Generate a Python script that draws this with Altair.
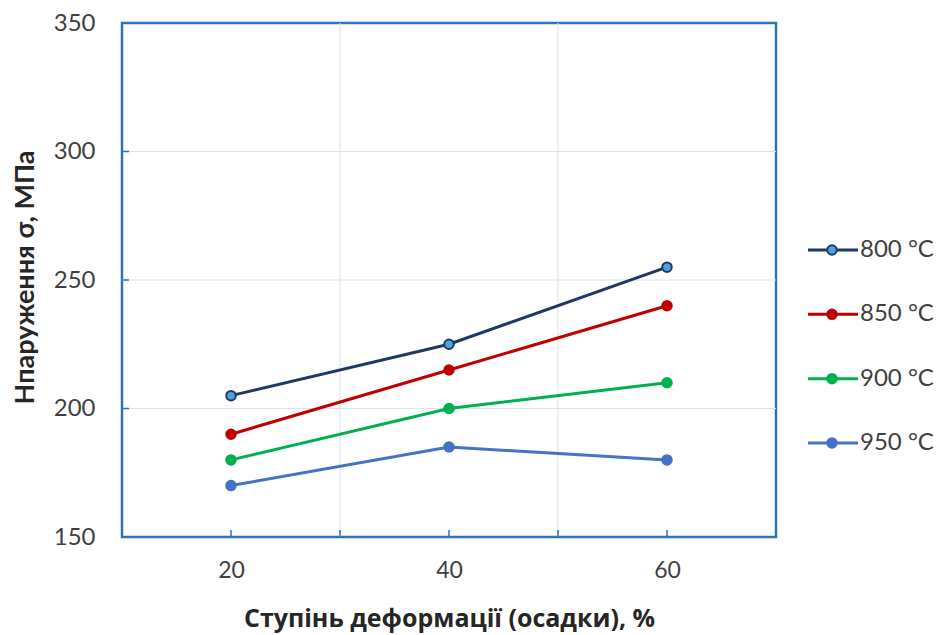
import altair as alt
import pandas as pd

# Deformation degree (upsetting), %
strain = [20, 40, 60]

# Flow stress, MPa, per deformation temperature
series_names = ["800 °C", "850 °C", "900 °C", "950 °C"]
stress_800 = [205, 225, 255]
stress_850 = [190, 215, 240]
stress_900 = [180, 200, 210]
stress_950 = [170, 185, 180]

line_colors = ["#1f3864", "#c00000", "#00b050", "#4472c4"]
marker_fills = ["#4aa3df", "#c00000", "#00b050", "#4472c4"]

y_ticks = [150, 200, 250, 300, 350]
x_labels = [20, 40, 60]
x_minor = [20, 30, 40, 50, 60]
x_grid = [30, 50]
y_grid = [200, 250, 300]

rows = []
for name, vals in zip(series_names, [stress_800, stress_850, stress_900, stress_950]):
    for x, v in zip(strain, vals):
        rows.append({"series": name, "strain": x, "stress": v})
df = pd.DataFrame(rows)
legend_df = pd.DataFrame({"series": series_names})

W, H = 654, 514
FRAME = "#2a74b8"
FONT = "Lato"

xs = alt.Scale(domain=[10, 70], nice=False, zero=False)
ys = alt.Scale(domain=[150, 350], nice=False, zero=False)
stroke_scale = alt.Scale(domain=series_names, range=line_colors)
fill_scale = alt.Scale(domain=series_names, range=marker_fills)

x_axis = alt.Axis(
    values=x_labels, grid=False, domain=False, ticks=False,
    labelFontSize=23, labelColor="#404040", labelFont=FONT, labelPadding=22,
    title="Ступінь деформації (осадки), %", titleFont="Open Sans", titleFontSize=25,
    titleFontWeight="bold", titleColor="#262626", titleY=89,
    titleBaseline="alphabetic",
)
y_axis = alt.Axis(
    values=y_ticks, grid=False, domain=False, ticks=False,
    labelFontSize=24, labelColor="#404040", labelFont=FONT, labelPadding=27,
    title="Нпаруження σ, МПа", titleFont=FONT, titleFontSize=27,
    titleFontWeight="bold", titleColor="#262626", titleX=-89, titleY=254,
    titleAngle=-90, titleAlign="center", titleBaseline="alphabetic",
)

vgrid = alt.Chart(pd.DataFrame({"g": x_grid})).mark_rule(
    color="#d9e2ec", strokeWidth=1
).encode(x=alt.X("g:Q", scale=xs, axis=x_axis))

hgrid = alt.Chart(pd.DataFrame({"g": y_grid})).mark_rule(
    color="#d9e2ec", strokeWidth=1
).encode(y=alt.Y("g:Q", scale=ys, axis=None))

xtick_marks = alt.Chart(pd.DataFrame({"t": x_minor})).mark_rule(
    color=FRAME, strokeWidth=1.5
).encode(x=alt.X("t:Q", scale=xs, axis=x_axis), y=alt.value(H), y2=alt.value(H - 7))

ytick_marks = alt.Chart(pd.DataFrame({"t": y_grid})).mark_rule(
    color=FRAME, strokeWidth=1.5
).encode(y=alt.Y("t:Q", scale=ys, axis=None), x=alt.value(0), x2=alt.value(7))

lines = alt.Chart(df).mark_line(strokeWidth=3).encode(
    x=alt.X("strain:Q", scale=xs, axis=x_axis),
    y=alt.Y("stress:Q", scale=ys, axis=y_axis),
    color=alt.Color("series:N", scale=stroke_scale, legend=None),
    detail="series:N",
)

points = alt.Chart(df).mark_point(
    size=90, strokeWidth=2, opacity=1, fillOpacity=1, filled=True
).encode(
    x=alt.X("strain:Q", scale=xs, axis=x_axis),
    y=alt.Y("stress:Q", scale=ys, axis=None),
    fill=alt.Fill("series:N", scale=fill_scale, legend=None),
    stroke=alt.Stroke("series:N", scale=stroke_scale, legend=None),
)

# Hand-built legend to the right of the plot area
leg_y = alt.Y(
    "series:N",
    scale=alt.Scale(type="point", domain=series_names, range=[227, 420], padding=0),
    axis=None,
)

leg_lines = alt.Chart(legend_df).mark_rule(strokeWidth=3).encode(
    x=alt.value(W + 32), x2=alt.value(W + 82), y=leg_y,
    color=alt.Color("series:N", scale=stroke_scale, legend=None),
)
leg_points = alt.Chart(legend_df).mark_point(
    size=90, strokeWidth=2, opacity=1, fillOpacity=1, filled=True
).encode(
    x=alt.value(W + 56), y=leg_y,
    fill=alt.Fill("series:N", scale=fill_scale, legend=None),
    stroke=alt.Stroke("series:N", scale=stroke_scale, legend=None),
)
leg_text = alt.Chart(legend_df).mark_text(
    align="left", baseline="middle", fontSize=24, font=FONT, color="#404040"
).encode(x=alt.value(W + 84), y=leg_y, text="series:N")

chart = alt.layer(
    vgrid, hgrid, xtick_marks, ytick_marks, lines, points,
    leg_lines, leg_points, leg_text,
).resolve_scale(y="independent").properties(
    width=W, height=H,
    autosize=alt.AutoSizeParams(type="none"),
    padding={"left": 122, "top": 23, "right": 166, "bottom": 98},
    background="white",
).configure_view(stroke=FRAME, strokeWidth=2.5)

chart.save("out.html", embed_options={"renderer": "svg", "actions": False})
